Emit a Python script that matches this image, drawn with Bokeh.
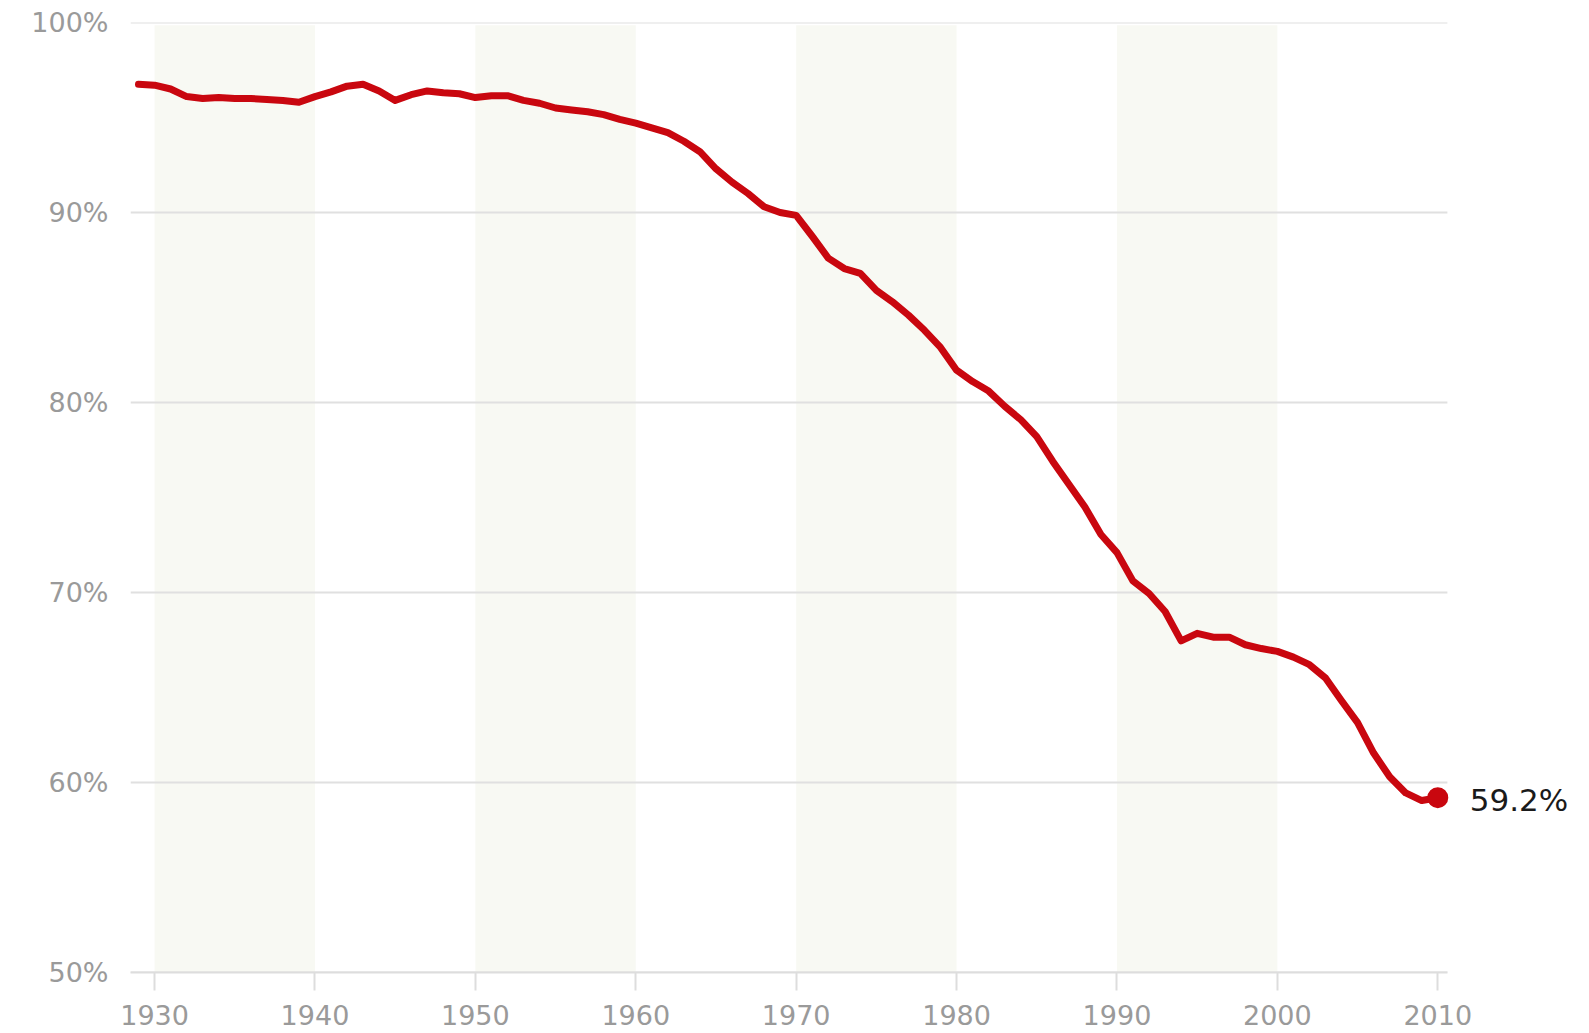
from bokeh.plotting import figure
from bokeh.models import FixedTicker, PrintfTickFormatter, Range1d
from bokeh.core.properties import value
from bokeh.embed import file_html
from bokeh.resources import INLINE

years = list(range(1929, 2011))
share = [
    96.75, 96.7, 96.5, 96.1, 96.0, 96.05, 96.0, 96.0, 95.95, 95.9, 95.8,  # 1929-1939
    96.1, 96.35, 96.65, 96.75, 96.4, 95.9, 96.2, 96.4, 96.3, 96.25,      # 1940-1949
    96.05, 96.15, 96.15, 95.9, 95.75, 95.5, 95.4, 95.3, 95.15, 94.9,     # 1950-1959
    94.7, 94.45, 94.2, 93.75, 93.2, 92.3, 91.6, 91.0, 90.3, 90.0,        # 1960-1969
    89.85, 88.75, 87.6, 87.05, 86.8, 85.9, 85.3, 84.6, 83.8, 82.9,       # 1970-1979
    81.7, 81.1, 80.6, 79.8, 79.1, 78.2, 76.9, 75.7, 74.5, 73.05,         # 1980-1989
    72.1, 70.6, 69.95, 69.0, 67.45, 67.85, 67.65, 67.65, 67.25, 67.05,   # 1990-1999
    66.9, 66.6, 66.2, 65.5, 64.3, 63.15, 61.55, 60.3, 59.45, 59.05,      # 2000-2009
    59.2,                                                                # 2010
]
band_start = [1930, 1950, 1970, 1990]
band_end = [1940, 1960, 1980, 2000]
x_ticks = [1930, 1940, 1950, 1960, 1970, 1980, 1990, 2000, 2010]
y_ticks = [50, 60, 70, 80, 90, 100]
end_label = ["59.2%"]

X_MIN, X_GRID_MAX, X_MAX = 1928.5, 2010.6, 2018.96
FONT = "DejaVu Sans"

p = figure(width=1581, height=1033, output_backend="svg", toolbar_location=None,
           x_range=Range1d(X_MIN, X_MAX), y_range=Range1d(50, 100),
           min_border_left=130, min_border_right=0, min_border_top=22, min_border_bottom=61)
p.outline_line_color = None
p.xgrid.visible = False
p.ygrid.visible = False
p.background_fill_color = "white"

# decade bands
p.quad(left=band_start, right=band_end, bottom=50, top=99.85,
       fill_color="#f8f9f3", line_color=None)

# horizontal gridlines
p.segment(x0=[X_MIN] * len(y_ticks), x1=[X_GRID_MAX] * len(y_ticks), y0=y_ticks, y1=y_ticks,
          line_color="#e0e0e0", line_width=2)

# series
p.line(years, share, line_color="#c9070f", line_width=7, line_join="round", line_cap="round")
p.scatter([years[-1]], [share[-1]], size=21, fill_color="#c9070f", line_color=None)
p.text(x=[years[-1]], y=[share[-1]], text=end_label, x_offset=32, y_offset=2,
       text_font=value(FONT), text_font_size="31px", text_color="#1a1a1a",
       text_baseline="middle", text_align="left")

# x axis
xa = p.xaxis[0]
xa.ticker = FixedTicker(ticks=x_ticks)
xa.bounds = (X_MIN, X_GRID_MAX)
xa.axis_line_color = "#dddddd"
xa.axis_line_width = 2
xa.major_tick_line_color = "#dddddd"
xa.major_tick_line_width = 2
xa.major_tick_in = 0
xa.major_tick_out = 18
xa.minor_tick_line_color = None
xa.major_label_standoff = 14
xa.major_label_text_font = FONT
xa.major_label_text_font_size = "27px"
xa.major_label_text_color = "#9a9a9a"

# y axis
ya = p.yaxis[0]
ya.ticker = FixedTicker(ticks=y_ticks)
ya.formatter = PrintfTickFormatter(format="%d%%")
ya.axis_line_color = None
ya.major_tick_line_color = None
ya.minor_tick_line_color = None
ya.major_tick_out = 0
ya.major_tick_in = 0
ya.major_label_standoff = 22
ya.major_label_text_font = FONT
ya.major_label_text_font_size = "27px"
ya.major_label_text_color = "#9a9a9a"

open("out.html", "w").write(file_html(p, INLINE))
